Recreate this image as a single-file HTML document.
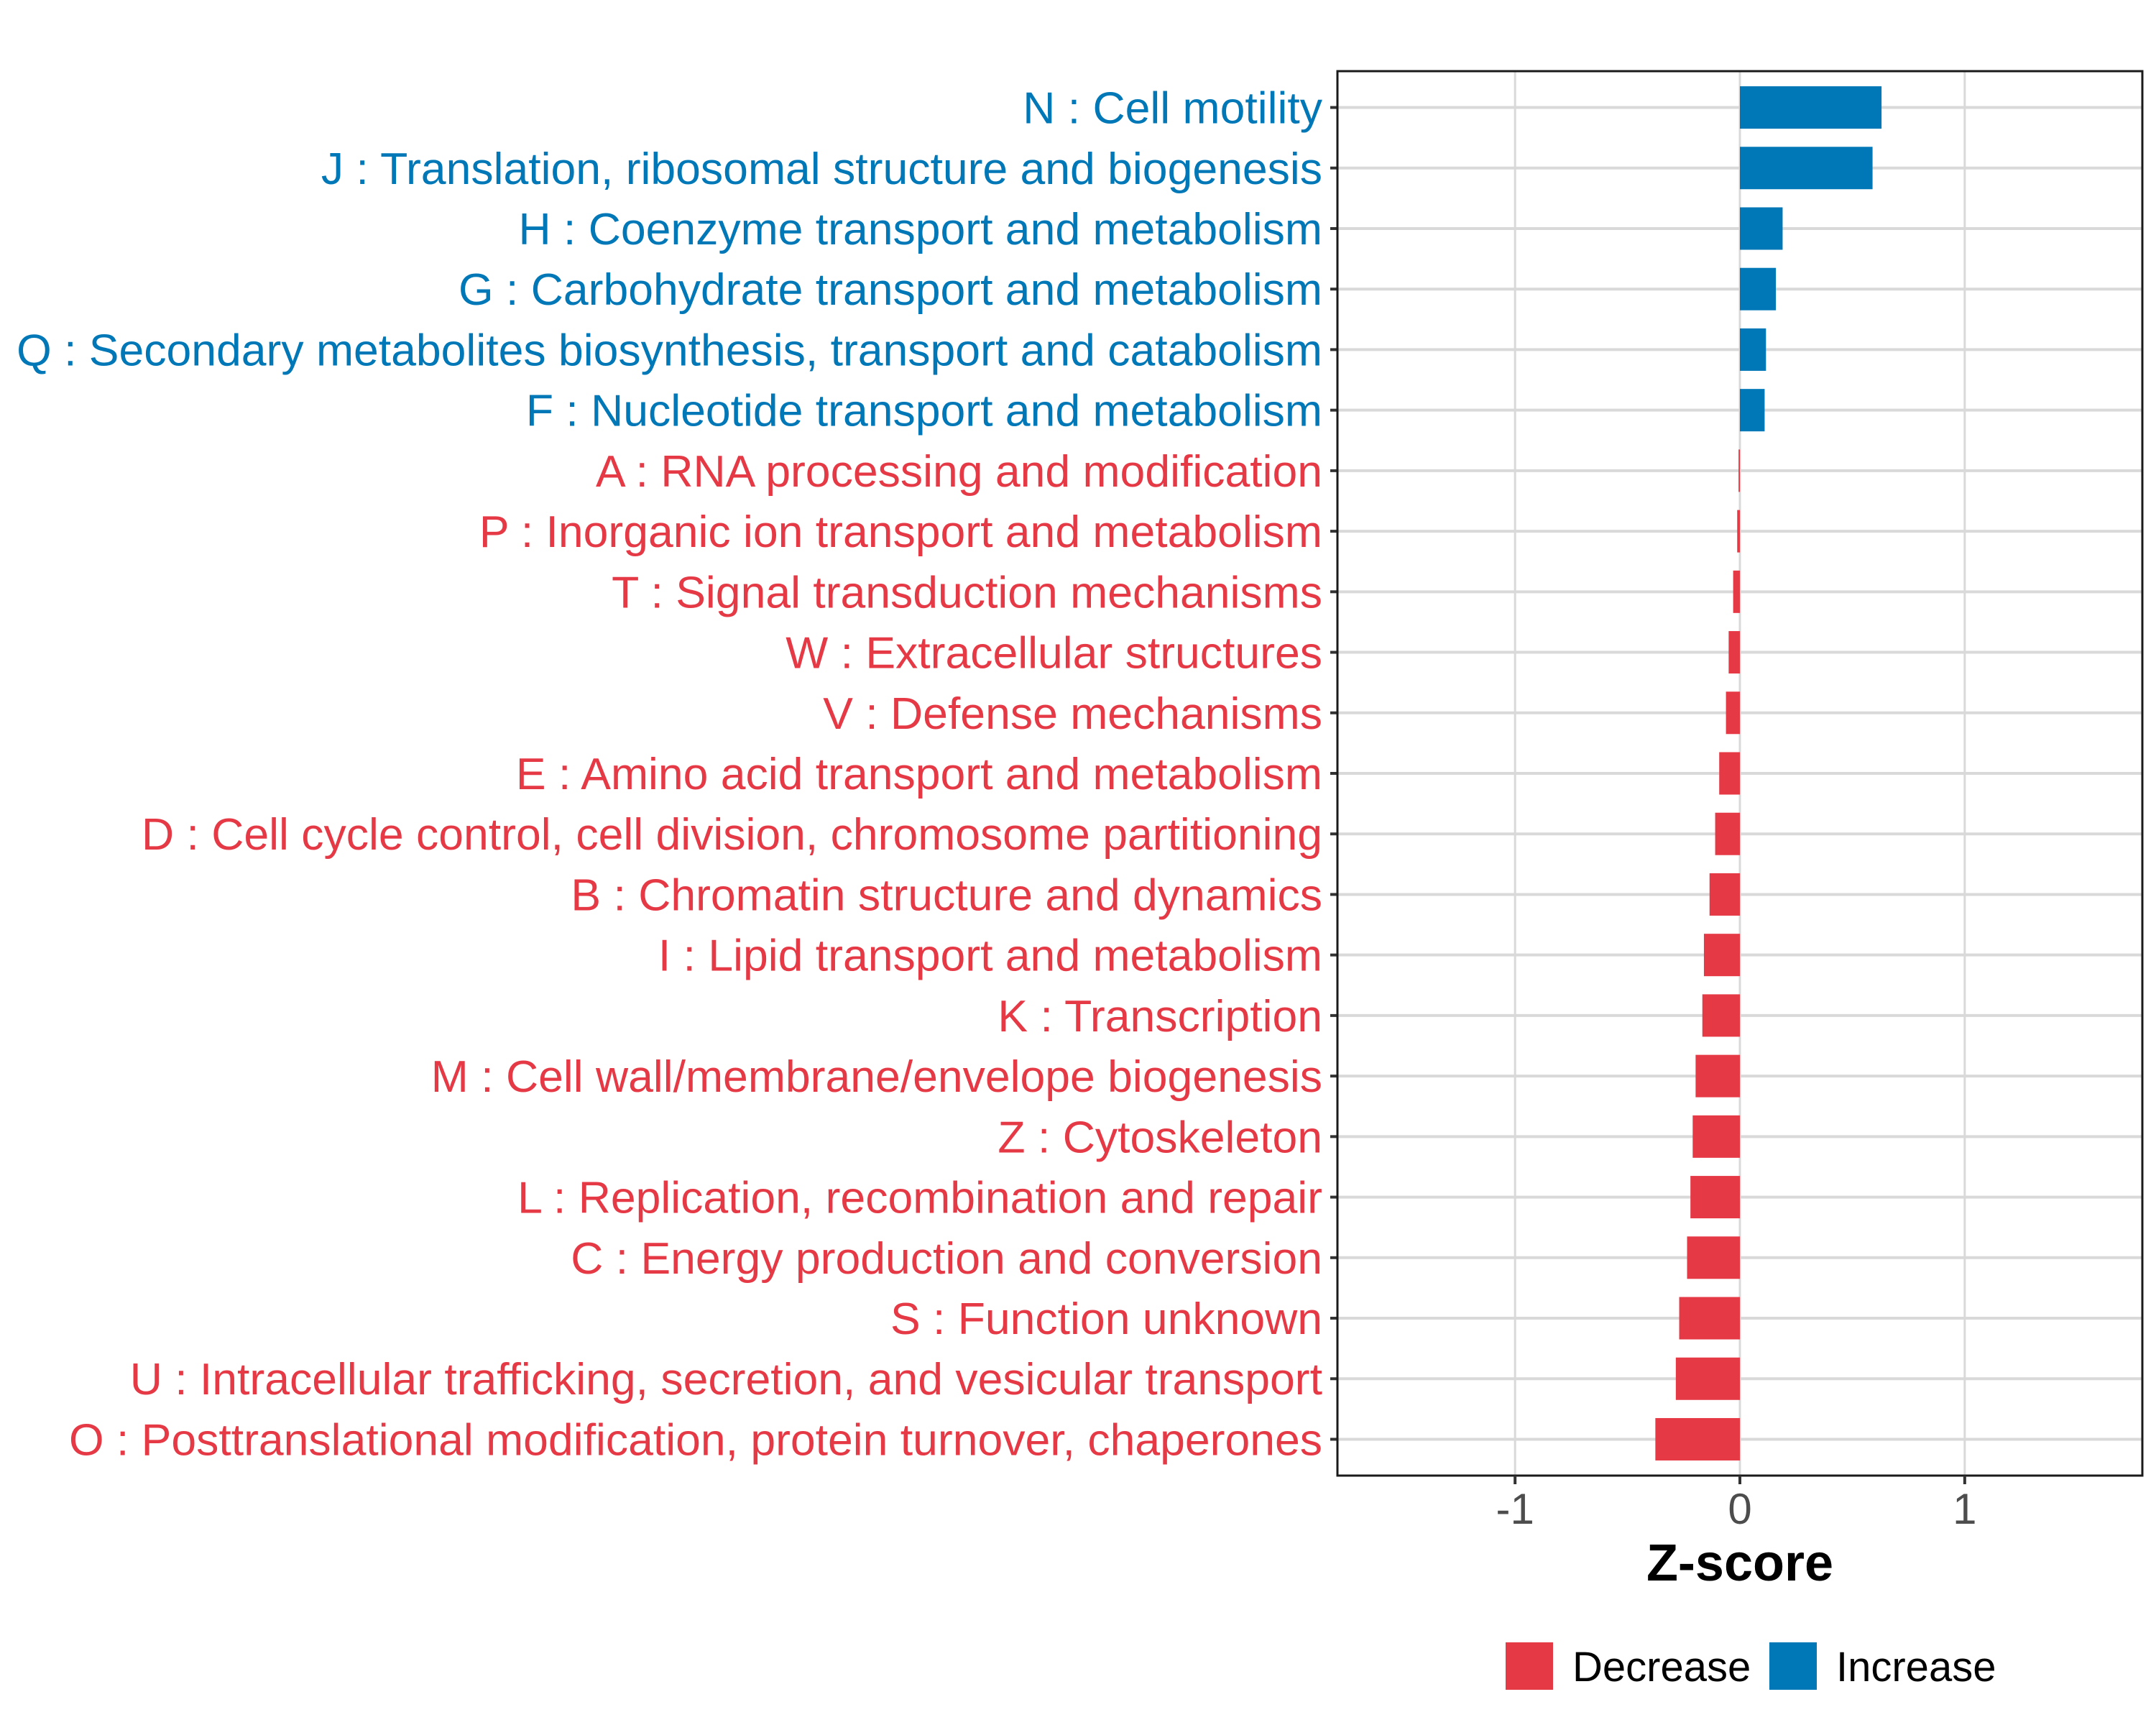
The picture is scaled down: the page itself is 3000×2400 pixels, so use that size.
<!DOCTYPE html>
<html><head><meta charset="utf-8"><style>html,body{margin:0;padding:0;background:#fff}svg{display:block}</style></head>
<body>
<svg id="chart" width="3000" height="2400" viewBox="0 0 3000 2400" xmlns="http://www.w3.org/2000/svg" font-family="Liberation Sans, Arial, sans-serif"></svg>
<script>
const categories = ["N : Cell motility","J : Translation, ribosomal structure and biogenesis","H : Coenzyme transport and metabolism","G : Carbohydrate transport and metabolism","Q : Secondary metabolites biosynthesis, transport and catabolism","F : Nucleotide transport and metabolism","A : RNA processing and modification","P : Inorganic ion transport and metabolism","T : Signal transduction mechanisms","W : Extracellular structures","V : Defense mechanisms","E : Amino acid transport and metabolism","D : Cell cycle control, cell division, chromosome partitioning","B : Chromatin structure and dynamics","I : Lipid transport and metabolism","K : Transcription","M : Cell wall/membrane/envelope biogenesis","Z : Cytoskeleton","L : Replication, recombination and repair","C : Energy production and conversion","S : Function unknown","U : Intracellular trafficking, secretion, and vesicular transport","O : Posttranslational modification, protein turnover, chaperones"];
const zscores = [0.63,0.59,0.19,0.16,0.116,0.11,-0.006,-0.012,-0.03,-0.05,-0.062,-0.092,-0.11,-0.135,-0.16,-0.167,-0.197,-0.21,-0.22,-0.235,-0.27,-0.285,-0.376];
const xTicks = [-1,0,1];
const xTickLabels = ["-1","0","1"];
const legendLabels = ["Decrease","Increase"];

const NS="http://www.w3.org/2000/svg";
const svg=document.getElementById('chart');
const L=1861,R=2981,T=99,B=2053;
const xMin=-1.79,xMax=1.79;
const RED="#e63946",BLUE="#0077b6";
function xs(v){return L+(v-xMin)/(xMax-xMin)*(R-L);}
const n=categories.length;
const step=(B-T)/(n+0.2);
function ys(i){return T+step*0.6+i*step;}
function mk(tag,attrs){const e=document.createElementNS(NS,tag);for(const k in attrs)e.setAttribute(k,attrs[k]);svg.appendChild(e);return e;}

xTicks.forEach((t,i)=>{
  const g=mk('line',{x1:xs(t),x2:xs(t),y1:T,y2:B,stroke:'#d9d9d9','stroke-width':3});
  
  
});
categories.forEach((c,i)=>{
  const g=mk('line',{x1:L,x2:R,y1:ys(i),y2:ys(i),stroke:'#d9d9d9','stroke-width':4});
  
  
});
const bh=59;
zscores.forEach((v,i)=>{
  const x0=xs(0),x1=xs(v);
  const r=mk('rect',{x:Math.min(x0,x1),y:ys(i)-bh/2,width:Math.max(Math.abs(x1-x0),1.5),height:bh,fill:v>=0?BLUE:RED});
  
  
  const tk=mk('line',{x1:L-10,x2:L,y1:ys(i),y2:ys(i),stroke:'#333','stroke-width':4});
  
  
  const t=mk('text',{x:L-21,y:ys(i)+22,'text-anchor':'end','font-size':62.5,fill:v>=0?BLUE:RED});
  t.textContent=categories[i];
  
  
});
const frame=mk('rect',{x:L,y:T,width:R-L,height:B-T,fill:'none',stroke:'#1a1a1a','stroke-width':3});


xTicks.forEach((t,i)=>{
  const tk=mk('line',{x1:xs(t),x2:xs(t),y1:B,y2:B+12,stroke:'#333','stroke-width':4});
  
  
  const lb=mk('text',{x:xs(t),y:2120,'text-anchor':'middle','font-size':60,fill:'#4d4d4d'});
  lb.textContent=xTickLabels[i];
  
  
});
const title=mk('text',{x:xs(0),y:2199,'text-anchor':'middle','font-size':72,'font-weight':'bold',fill:'#000'});
title.textContent='Z-score';


const lx=[2095,2462],tx=[2188,2555],lc=[RED,BLUE];
legendLabels.forEach((s,i)=>{
  const r=mk('rect',{x:lx[i],y:2285,width:66,height:66,fill:lc[i]});
  
  
  const t=mk('text',{x:tx[i],y:2339,'font-size':58,fill:'#000'});
  t.textContent=s;
  
  
});
</script>
</body></html>
